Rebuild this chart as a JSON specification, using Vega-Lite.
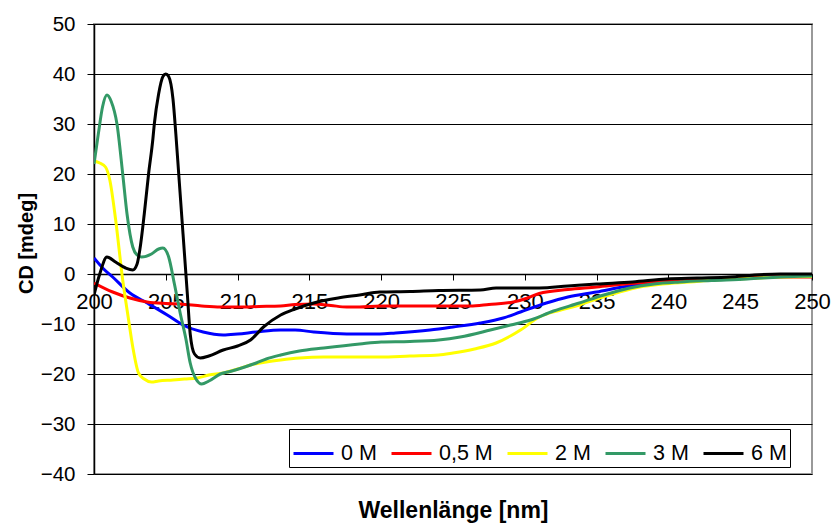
{
  "$schema": "https://vega.github.io/schema/vega-lite/v6.json",
  "width": 718,
  "height": 450,
  "autosize": {"type": "none"},
  "padding": {"left": 94, "top": 24, "right": 19, "bottom": 49},
  "background": "white",
  "config": {
    "font": "Liberation Sans",
    "view": {"stroke": "#999999", "strokeWidth": 2},
    "axis": {"labelFont": "Liberation Sans", "titleFont": "Liberation Sans", "labelColor": "black", "titleColor": "black"}
  },
  "data": {"values": [
    {"s":"0 M","x":200,"y":3.2},{"s":"0 M","x":200.6,"y":1.2},{"s":"0 M","x":201.3,"y":-0.6},{"s":"0 M","x":202.5,"y":-3.8},{"s":"0 M","x":203.7,"y":-5.8},{"s":"0 M","x":205.1,"y":-8.2},{"s":"0 M","x":206.2,"y":-10.2},{"s":"0 M","x":207.6,"y":-11.6},{"s":"0 M","x":209,"y":-12.2},{"s":"0 M","x":210,"y":-12},{"s":"0 M","x":211.3,"y":-11.6},{"s":"0 M","x":213,"y":-11.2},{"s":"0 M","x":214,"y":-11.2},{"s":"0 M","x":215.3,"y":-11.6},{"s":"0 M","x":217.6,"y":-12},{"s":"0 M","x":219.9,"y":-12},{"s":"0 M","x":221,"y":-11.8},{"s":"0 M","x":223.4,"y":-11.2},{"s":"0 M","x":225,"y":-10.6},{"s":"0 M","x":226.9,"y":-9.8},{"s":"0 M","x":228.5,"y":-8.8},{"s":"0 M","x":229.7,"y":-7.6},{"s":"0 M","x":231.5,"y":-5.8},{"s":"0 M","x":233,"y":-4.6},{"s":"0 M","x":235,"y":-3.6},{"s":"0 M","x":236.8,"y":-2.6},{"s":"0 M","x":238.5,"y":-1.8},{"s":"0 M","x":240,"y":-1.4},{"s":"0 M","x":242,"y":-1},{"s":"0 M","x":245.5,"y":-0.8},{"s":"0 M","x":248,"y":-0.5},{"s":"0 M","x":250,"y":-0.4},
    {"s":"0,5 M","x":200,"y":-1.8},{"s":"0,5 M","x":201.3,"y":-3.6},{"s":"0,5 M","x":202.5,"y":-4.8},{"s":"0,5 M","x":203.7,"y":-5.6},{"s":"0,5 M","x":205,"y":-5.9},{"s":"0,5 M","x":206,"y":-6},{"s":"0,5 M","x":207.5,"y":-6.4},{"s":"0,5 M","x":208.8,"y":-6.6},{"s":"0,5 M","x":210,"y":-6.6},{"s":"0,5 M","x":211.5,"y":-6.5},{"s":"0,5 M","x":213,"y":-6.4},{"s":"0,5 M","x":214,"y":-6.1},{"s":"0,5 M","x":215.3,"y":-6},{"s":"0,5 M","x":216.5,"y":-6.3},{"s":"0,5 M","x":217.6,"y":-6.6},{"s":"0,5 M","x":218.5,"y":-6.6},{"s":"0,5 M","x":219.9,"y":-6.4},{"s":"0,5 M","x":223,"y":-6.4},{"s":"0,5 M","x":226.2,"y":-6.4},{"s":"0,5 M","x":227.5,"y":-6.1},{"s":"0,5 M","x":229.2,"y":-5.6},{"s":"0,5 M","x":230.2,"y":-4.8},{"s":"0,5 M","x":231,"y":-3.9},{"s":"0,5 M","x":233,"y":-3.1},{"s":"0,5 M","x":235,"y":-2.6},{"s":"0,5 M","x":237,"y":-2},{"s":"0,5 M","x":239.6,"y":-1.4},{"s":"0,5 M","x":242,"y":-1},{"s":"0,5 M","x":244.3,"y":-0.8},{"s":"0,5 M","x":247,"y":-0.6},{"s":"0,5 M","x":250,"y":-0.6},
    {"s":"2 M","x":200,"y":22.6},{"s":"2 M","x":200.4,"y":22.2},{"s":"2 M","x":200.8,"y":21.4},{"s":"2 M","x":201.1,"y":18.8},{"s":"2 M","x":201.5,"y":11},{"s":"2 M","x":202,"y":-1.2},{"s":"2 M","x":202.4,"y":-9},{"s":"2 M","x":202.7,"y":-14.6},{"s":"2 M","x":203.1,"y":-19.8},{"s":"2 M","x":203.5,"y":-21},{"s":"2 M","x":204,"y":-21.6},{"s":"2 M","x":204.5,"y":-21.4},{"s":"2 M","x":205.5,"y":-21.2},{"s":"2 M","x":206.3,"y":-21},{"s":"2 M","x":207.2,"y":-20.8},{"s":"2 M","x":208,"y":-20.2},{"s":"2 M","x":209,"y":-19.8},{"s":"2 M","x":210,"y":-19},{"s":"2 M","x":210.9,"y":-18.2},{"s":"2 M","x":212,"y":-17.6},{"s":"2 M","x":213,"y":-17.2},{"s":"2 M","x":214.3,"y":-16.8},{"s":"2 M","x":216,"y":-16.6},{"s":"2 M","x":218.5,"y":-16.6},{"s":"2 M","x":219.9,"y":-16.6},{"s":"2 M","x":222,"y":-16.4},{"s":"2 M","x":224,"y":-16.2},{"s":"2 M","x":225,"y":-15.8},{"s":"2 M","x":226.5,"y":-15},{"s":"2 M","x":228,"y":-13.8},{"s":"2 M","x":229,"y":-12.4},{"s":"2 M","x":229.7,"y":-11.2},{"s":"2 M","x":231,"y":-8.6},{"s":"2 M","x":232.5,"y":-7.2},{"s":"2 M","x":233.8,"y":-6.2},{"s":"2 M","x":235,"y":-5},{"s":"2 M","x":236.6,"y":-3.6},{"s":"2 M","x":238,"y":-2.6},{"s":"2 M","x":239.6,"y":-2},{"s":"2 M","x":241.5,"y":-1.6},{"s":"2 M","x":243.1,"y":-1.2},{"s":"2 M","x":245.5,"y":-0.9},{"s":"2 M","x":247.8,"y":-0.6},{"s":"2 M","x":250,"y":-0.5},
    {"s":"3 M","x":200,"y":22},{"s":"3 M","x":200.3,"y":28},{"s":"3 M","x":200.6,"y":33.5},{"s":"3 M","x":200.9,"y":35.8},{"s":"3 M","x":201.2,"y":34.5},{"s":"3 M","x":201.6,"y":30},{"s":"3 M","x":202,"y":20},{"s":"3 M","x":202.3,"y":12},{"s":"3 M","x":202.7,"y":5.4},{"s":"3 M","x":203,"y":3.8},{"s":"3 M","x":203.3,"y":3.4},{"s":"3 M","x":204,"y":4},{"s":"3 M","x":204.5,"y":5},{"s":"3 M","x":204.8,"y":5.2},{"s":"3 M","x":205.2,"y":3.4},{"s":"3 M","x":205.6,"y":-2},{"s":"3 M","x":206,"y":-7.8},{"s":"3 M","x":206.4,"y":-13},{"s":"3 M","x":206.7,"y":-17.8},{"s":"3 M","x":207.1,"y":-21},{"s":"3 M","x":207.5,"y":-22},{"s":"3 M","x":208,"y":-21.4},{"s":"3 M","x":208.8,"y":-20},{"s":"3 M","x":209.6,"y":-19.4},{"s":"3 M","x":210.5,"y":-18.6},{"s":"3 M","x":211.3,"y":-17.8},{"s":"3 M","x":212,"y":-17},{"s":"3 M","x":213,"y":-16.2},{"s":"3 M","x":214.3,"y":-15.4},{"s":"3 M","x":216,"y":-14.8},{"s":"3 M","x":218.5,"y":-14},{"s":"3 M","x":220,"y":-13.6},{"s":"3 M","x":222,"y":-13.5},{"s":"3 M","x":224,"y":-13.2},{"s":"3 M","x":225.5,"y":-12.6},{"s":"3 M","x":227.6,"y":-11.2},{"s":"3 M","x":229,"y":-10.2},{"s":"3 M","x":230.4,"y":-9.2},{"s":"3 M","x":232,"y":-7.4},{"s":"3 M","x":233.8,"y":-5.8},{"s":"3 M","x":235.5,"y":-4.2},{"s":"3 M","x":237.3,"y":-2.8},{"s":"3 M","x":239,"y":-2},{"s":"3 M","x":240.8,"y":-1.6},{"s":"3 M","x":243,"y":-1.3},{"s":"3 M","x":245.5,"y":-1},{"s":"3 M","x":247.8,"y":-0.6},{"s":"3 M","x":250,"y":-0.4},
    {"s":"6 M","x":200,"y":-4.2},{"s":"6 M","x":200.4,"y":0},{"s":"6 M","x":200.9,"y":3.4},{"s":"6 M","x":201.5,"y":2.4},{"s":"6 M","x":202.2,"y":1.2},{"s":"6 M","x":202.7,"y":0.8},{"s":"6 M","x":203,"y":2},{"s":"6 M","x":203.2,"y":5},{"s":"6 M","x":203.5,"y":12},{"s":"6 M","x":203.8,"y":20},{"s":"6 M","x":204.1,"y":27},{"s":"6 M","x":204.2,"y":30},{"s":"6 M","x":204.5,"y":36},{"s":"6 M","x":204.8,"y":39.5},{"s":"6 M","x":205,"y":40},{"s":"6 M","x":205.2,"y":39.5},{"s":"6 M","x":205.5,"y":35},{"s":"6 M","x":205.7,"y":28},{"s":"6 M","x":205.9,"y":20},{"s":"6 M","x":206.2,"y":8},{"s":"6 M","x":206.5,"y":-4},{"s":"6 M","x":206.7,"y":-12},{"s":"6 M","x":207,"y":-16},{"s":"6 M","x":207.4,"y":-16.8},{"s":"6 M","x":208,"y":-16.4},{"s":"6 M","x":209,"y":-15.2},{"s":"6 M","x":210,"y":-14.4},{"s":"6 M","x":210.9,"y":-13.2},{"s":"6 M","x":211.8,"y":-10.6},{"s":"6 M","x":213,"y":-8.2},{"s":"6 M","x":214,"y":-7},{"s":"6 M","x":215.3,"y":-5.8},{"s":"6 M","x":217,"y":-4.8},{"s":"6 M","x":218.5,"y":-4.2},{"s":"6 M","x":219.9,"y":-3.6},{"s":"6 M","x":222,"y":-3.5},{"s":"6 M","x":224,"y":-3.3},{"s":"6 M","x":226.9,"y":-3.2},{"s":"6 M","x":228,"y":-2.8},{"s":"6 M","x":231,"y":-2.8},{"s":"6 M","x":233,"y":-2.4},{"s":"6 M","x":235,"y":-2},{"s":"6 M","x":237.5,"y":-1.6},{"s":"6 M","x":239.9,"y":-1},{"s":"6 M","x":242,"y":-0.8},{"s":"6 M","x":244.3,"y":-0.6},{"s":"6 M","x":246,"y":-0.2},{"s":"6 M","x":247.8,"y":0},{"s":"6 M","x":250,"y":0}
  ]},
  "mark": {"type": "line", "strokeWidth": 3, "interpolate": "monotone", "clip": true},
  "encoding": {
    "x": {
      "field": "x", "type": "quantitative",
      "scale": {"domain": [200, 250], "nice": false, "zero": false},
      "axis": {
        "title": "Wellenlänge [nm]", "values": [200,205,210,215,220,225,230,235,240,245,250],
        "offset": -200, "grid": false, "domainColor": "black", "domainWidth": 1.5,
        "tickColor": "black", "tickSize": 6, "labelFontSize": 22, "labelPadding": 11,
        "labelOverlap": false, "labelFlush": false, "labelBound": false,
        "titleFontSize": 23, "titleFontWeight": "bold", "titleY": 236, "titleBaseline": "middle"
      }
    },
    "y": {
      "field": "y", "type": "quantitative",
      "scale": {"domain": [-40, 50], "nice": false},
      "axis": {
        "title": "CD [mdeg]", "values": [-40,-30,-20,-10,0,10,20,30,40,50],
        "grid": true, "gridColor": "black", "gridWidth": 1,
        "domainColor": "black", "domainWidth": 1.5, "tickColor": "black", "tickSize": 7,
        "labelFontSize": 20.5, "labelPadding": 12,
        "titleFontSize": 20, "titleFontWeight": "bold", "titleX": -68, "titleY": 219, "titleBaseline": "middle", "titleAlign": "center"
      }
    },
    "color": {
      "field": "s", "type": "nominal",
      "scale": {"domain": ["0 M","0,5 M","2 M","3 M","6 M"], "range": ["#0000FF","#FF0000","#FFFF00","#339966","#000000"]},
      "legend": {
        "title": null, "orient": "none", "direction": "horizontal", "legendX": 195, "legendY": 405,
        "symbolType": "stroke", "symbolSize": 1600, "symbolStrokeWidth": 3,
        "labelFontSize": 21.5, "labelFont": "Liberation Sans", "labelColor": "black", "labelOffset": 6,
        "columnPadding": 8, "padding": 3, "strokeColor": "black", "fillColor": "white"
      }
    }
  }
}
